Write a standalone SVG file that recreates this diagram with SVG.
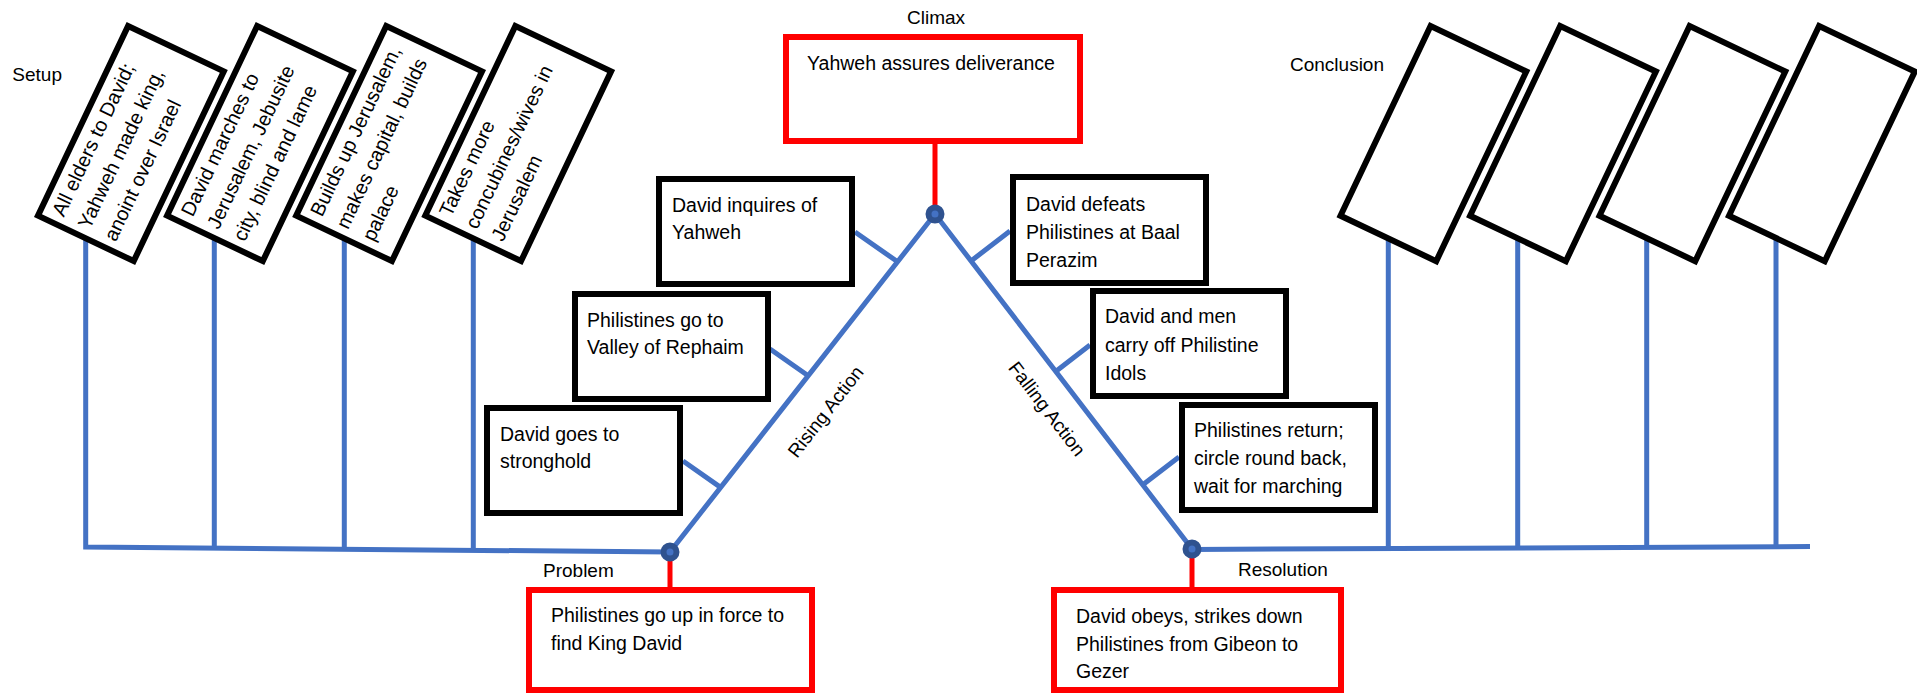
<svg xmlns="http://www.w3.org/2000/svg" width="1917" height="699" viewBox="0 0 1917 699">
<style>
  text { font-family: "Liberation Sans", Arial, sans-serif; fill: #000; }
  .lbl { font-size: 19px; }
  .bt { font-size: 19.5px; }
  .rt { font-size: 20px; }
  .box { fill: #fff; stroke: #000; stroke-width: 6; }
  .rbox { fill: #fff; stroke: #FF0000; stroke-width: 6; }
  .blue { fill: none; stroke: #4472C4; stroke-width: 5; }
  .red { fill: none; stroke: #FF0000; stroke-width: 5; }
  .dot { fill: #4472C4; stroke: #2F528F; stroke-width: 6; }
</style>
<rect width="1917" height="699" fill="#fff"/>

<g id="connectors">
  <path class="blue" d="M85.7,240 V547 L670,552"/>
  <path class="blue" d="M214.3,240 V548.1 M344.3,240 V549.2 M473.3,240 V550.3"/>
  <path class="blue" d="M1192,549.5 L1810,546.5"/>
  <path class="blue" d="M1388.3,240 V548.5 M1517.7,240 V547.9 M1646.7,240 V547.3 M1776,240 V546.8"/>
  <path class="blue" d="M670,552 L935,214 L1192,549"/>
  <path class="blue" d="M855,232 L897.6,261.8 M770,349 L808.2,375.8 M683,461 L720.6,487.4"/>
  <path class="blue" d="M1010,231 L971,261 M1090,345 L1055.7,371.4 M1179,457 L1142.8,484.8"/>
  <path class="red" d="M935,144 V214 M670,552 V590 M1192,549 V590"/>
  <circle class="dot" cx="935" cy="214" r="6.5"/>
  <circle class="dot" cx="670" cy="552" r="6.5"/>
  <circle class="dot" cx="1192" cy="549" r="6.5"/>
</g>

<g id="labels">
  <text class="lbl" x="12.3" y="81">Setup</text>
  <text class="lbl" x="907" y="24">Climax</text>
  <text class="lbl" x="1290" y="71">Conclusion</text>
  <text class="lbl" x="543" y="576.7">Problem</text>
  <text class="lbl" x="1238" y="575.7">Resolution</text>
  <text class="lbl" text-anchor="middle" transform="translate(830.7,415.7) rotate(-52)">Rising Action</text>
  <text class="lbl" text-anchor="middle" transform="translate(1041.8,412.7) rotate(52.5)">Falling Action</text>
</g>

<g id="setup1" transform="translate(130.9,143.5) rotate(-64.6)">
  <rect class="box" x="-105" y="-53" width="210" height="106"/>
  <text class="rt" x="-96"><tspan x="-96" y="-28.8">All elders to David;</tspan><tspan x="-96" y="0">Yahweh made king,</tspan><tspan x="-96" y="28.8">anoint over Israel</tspan></text>
</g>
<g id="setup2" transform="translate(260,143.5) rotate(-64.6)">
  <rect class="box" x="-105" y="-53" width="210" height="106"/>
  <text class="rt"><tspan x="-96" y="-28.8">David marches to</tspan><tspan x="-96" y="0">Jerusalem, Jebusite</tspan><tspan x="-96" y="28.8">city, blind and lame</tspan></text>
</g>
<g id="setup3" transform="translate(389.1,143.5) rotate(-64.6)">
  <rect class="box" x="-105" y="-53" width="210" height="106"/>
  <text class="rt"><tspan x="-96" y="-28.8">Builds up Jerusalem,</tspan><tspan x="-96" y="0">makes capital, builds</tspan><tspan x="-96" y="28.8">palace</tspan></text>
</g>
<g id="setup4" transform="translate(518.2,143.5) rotate(-64.6)">
  <rect class="box" x="-105" y="-53" width="210" height="106"/>
  <text class="rt"><tspan x="-96" y="-28.8">Takes more</tspan><tspan x="-96" y="0">concubines/wives in</tspan><tspan x="-96" y="28.8">Jerusalem</tspan></text>
</g>

<g id="concl1" transform="translate(1433.4,143.6) rotate(-64.6)">
  <rect class="box" x="-105" y="-53" width="210" height="106"/>
</g>
<g id="concl2" transform="translate(1563,143.6) rotate(-64.6)">
  <rect class="box" x="-105" y="-53" width="210" height="106"/>
</g>
<g id="concl3" transform="translate(1692.4,143.6) rotate(-64.6)">
  <rect class="box" x="-105" y="-53" width="210" height="106"/>
</g>
<g id="concl4" transform="translate(1821.9,143.6) rotate(-64.6)">
  <rect class="box" x="-105" y="-53" width="210" height="106"/>
</g>

<g id="rise1">
  <rect class="box" x="659" y="179" width="193" height="105"/>
  <text class="bt"><tspan x="672" y="211.7">David inquires of</tspan><tspan x="672" y="239.3">Yahweh</tspan></text>
</g>
<g id="rise2">
  <rect class="box" x="575" y="294" width="193" height="105"/>
  <text class="bt"><tspan x="587" y="326.7">Philistines go to</tspan><tspan x="587" y="354.3">Valley of Rephaim</tspan></text>
</g>
<g id="rise3">
  <rect class="box" x="487" y="408" width="193" height="105"/>
  <text class="bt"><tspan x="500" y="440.7">David goes to</tspan><tspan x="500" y="468.3">stronghold</tspan></text>
</g>

<g id="fall1">
  <rect class="box" x="1013" y="177" width="193" height="106"/>
  <text class="bt"><tspan x="1026" y="211">David defeats</tspan><tspan x="1026" y="238.7">Philistines at Baal</tspan><tspan x="1026" y="266.7">Perazim</tspan></text>
</g>
<g id="fall2">
  <rect class="box" x="1093" y="291" width="193" height="105"/>
  <text class="bt"><tspan x="1105" y="323.3">David and men</tspan><tspan x="1105" y="351.7">carry off Philistine</tspan><tspan x="1105" y="380">Idols</tspan></text>
</g>
<g id="fall3">
  <rect class="box" x="1182" y="405" width="193" height="105"/>
  <text class="bt"><tspan x="1194" y="437.3">Philistines return;</tspan><tspan x="1194" y="465">circle round back,</tspan><tspan x="1194" y="493.3">wait for marching</tspan></text>
</g>

<g id="climax">
  <rect class="rbox" x="786" y="37" width="294" height="104"/>
  <text class="bt" x="807" y="70">Yahweh assures deliverance</text>
</g>
<g id="problem">
  <rect class="rbox" x="529" y="590" width="283" height="100"/>
  <text class="bt"><tspan x="551" y="621.7">Philistines go up in force to</tspan><tspan x="551" y="650">find King David</tspan></text>
</g>
<g id="resolution">
  <rect class="rbox" x="1054" y="590" width="287" height="100"/>
  <text class="bt"><tspan x="1076" y="622.7">David obeys, strikes down</tspan><tspan x="1076" y="650.7">Philistines from Gibeon to</tspan><tspan x="1076" y="678.3">Gezer</tspan></text>
</g>
</svg>
